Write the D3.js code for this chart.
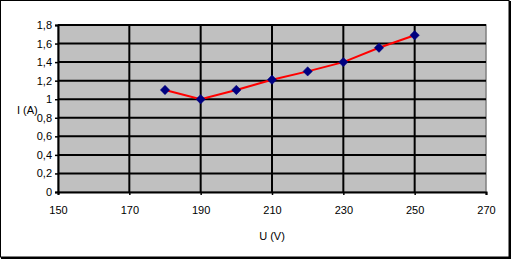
<!DOCTYPE html>
<html>
<head>
<meta charset="utf-8">
<script src="https://cdn.jsdelivr.net/npm/d3@7"></script>
<style>
  body { margin: 0; background: #fff; }
  svg { display: block; }
</style>
</head>
<body>
<script>
// data
const voltage = [180, 190, 200, 210, 220, 230, 240, 250];
const current = [1.1, 1.0, 1.1, 1.21, 1.3, 1.4, 1.555, 1.69];
const xTicks = [150, 170, 190, 210, 230, 250, 270];
const yTicks = [0, 0.2, 0.4, 0.6, 0.8, 1, 1.2, 1.4, 1.6, 1.8];

function main(){
    const width = 511;
    const height = 259;

    const svg = d3.select("body").append("svg")
        .attr("width", width)
        .attr("height", height);

    // outer frame, a bit heavier on the right and bottom
    svg.append("rect")
        .attr("x", 0.5).attr("y", 0.5)
        .attr("width", width - 2.5).attr("height", height - 2.5)
        .attr("fill", "#fff")
        .attr("stroke", "#000");
    svg.append("path")
        .attr("d", `M${width - 1},1 V${height - 1} H1`)
        .attr("fill", "none")
        .attr("stroke", "#000")
        .attr("stroke-width", 2);

    const left = 58, right = 486, top = 25, bottom = 192;

    const x = d3.scaleLinear().domain([150, 270]).range([left, right]);
    const y = d3.scaleLinear().domain([0, 1.8]).range([bottom, top]);

    // plot area
    svg.append("rect")
        .attr("x", left).attr("y", top)
        .attr("width", right - left).attr("height", bottom - top)
        .attr("fill", "#c0c0c0")
        .attr("stroke", "#808080")
        .attr("stroke-width", 1.5);

    // grid lines
    svg.append("g").selectAll("line")
        .data(yTicks.slice(1))
        .enter().append("line")
        .attr("x1", left).attr("x2", right)
        .attr("y1", d => y(d)).attr("y2", d => y(d))
        .attr("stroke", "#000").attr("stroke-width", 2);

    svg.append("g").selectAll("line")
        .data(xTicks.slice(1, -1))
        .enter().append("line")
        .attr("x1", d => x(d)).attr("x2", d => x(d))
        .attr("y1", top).attr("y2", bottom)
        .attr("stroke", "#000").attr("stroke-width", 2);

    const fmt = d => String(+d.toFixed(1)).replace(".", ",");

    // y axis
    const yAxis = svg.append("g")
        .attr("transform", `translate(${left},0)`)
        .call(d3.axisLeft(y).tickValues(yTicks).tickFormat(fmt).tickSize(3).tickPadding(3));
    yAxis.select(".domain").attr("stroke-width", 2);
    yAxis.selectAll(".tick line").attr("stroke-width", 1.5);

    // x axis
    const xAxis = svg.append("g")
        .attr("transform", `translate(0,${bottom})`)
        .call(d3.axisBottom(x).tickValues(xTicks).tickFormat(d3.format("d")).tickSize(3).tickPadding(11));
    xAxis.select(".domain").attr("stroke-width", 2);
    xAxis.selectAll(".tick line").attr("stroke-width", 1.5);

    svg.selectAll(".tick text")
        .attr("font-family", "Liberation Sans, Arial, sans-serif")
        .attr("font-size", "11px")
        .attr("fill", "#000");

    // axis titles
    svg.append("text")
        .attr("x", 17).attr("y", 114)
        .attr("font-family", "Liberation Sans, Arial, sans-serif")
        .attr("font-size", "11px")
        .text("I (A)");

    svg.append("text")
        .attr("x", 272).attr("y", 240)
        .attr("text-anchor", "middle")
        .attr("font-family", "Liberation Sans, Arial, sans-serif")
        .attr("font-size", "11px")
        .text("U (V)");

    const points = voltage.map((v, i) => ({v: v, c: current[i]}));

    svg.append("path")
        .datum(points)
        .attr("fill", "none")
        .attr("stroke", "#ff0000")
        .attr("stroke-width", 2)
        .attr("d", d3.line().x(d => x(d.v)).y(d => y(d.c)));

    svg.append("g").selectAll("path")
        .data(points)
        .enter().append("path")
        .attr("transform", d => `translate(${x(d.v)},${y(d.c)})`)
        .attr("d", d3.symbol().type(d3.symbolDiamond2).size(56))
        .attr("fill", "#000080")
        .attr("stroke", "#000080")
        .attr("stroke-width", 0.5);
}

main();
</script>
</body>
</html>
